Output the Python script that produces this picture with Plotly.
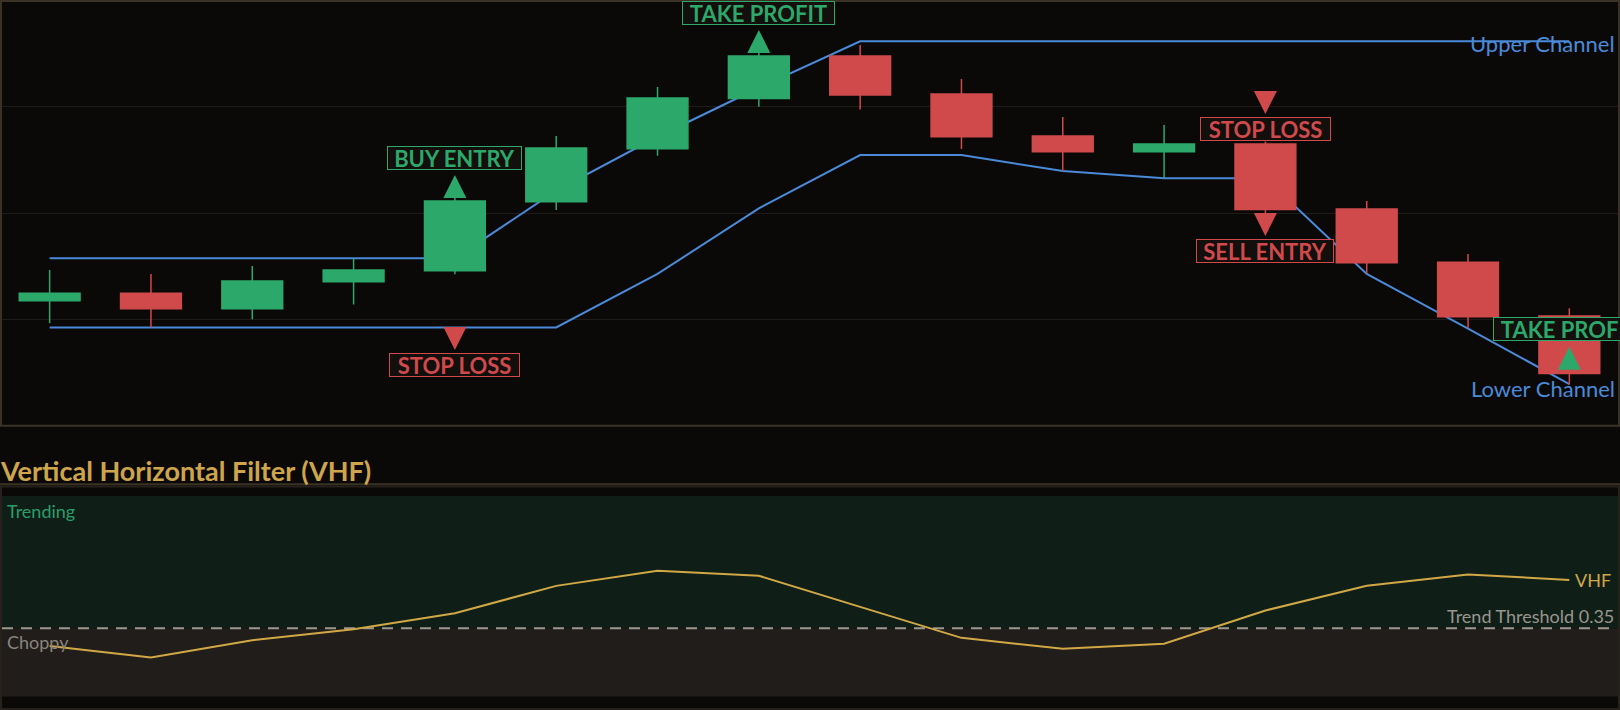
import plotly.graph_objects as go

# ---------------- data ----------------
bars = list(range(16))
opens  = [105.88, 106.23, 105.51, 106.77, 107.29, 110.53, 113.02, 115.37,
          117.37, 115.59, 113.61, 112.88, 113.24, 110.19, 107.69, 105.16]
highs  = [107.32, 107.14, 107.51, 107.87, 110.73, 113.62, 115.92, 117.53,
          117.89, 116.29, 114.51, 114.13, 113.36, 110.56, 108.08, 105.53]
lows   = [104.82, 104.63, 105.01, 105.70, 107.12, 110.14, 112.69, 114.99,
          114.86, 113.00, 111.97, 111.63, 110.00, 107.14, 104.60, 101.95]
closes = [106.23, 105.51, 106.81, 107.32, 110.56, 113.05, 115.40, 117.37,
          115.54, 113.58, 112.88, 113.24, 110.16, 107.67, 105.13, 102.46]

upper_channel = [107.87, 107.87, 107.87, 107.87, 107.87, 111.05, 113.58, 115.88,
                 118.06, 118.06, 118.06, 118.06, 118.06, 118.06, 118.06, 118.06]
lower_channel = [104.63, 104.63, 104.63, 104.63, 104.63, 104.63, 107.14, 110.22,
                 112.72, 112.72, 111.97, 111.63, 111.63, 107.14, 104.57, 101.97]

vhf = [0.311, 0.286, 0.324, 0.348, 0.383, 0.443, 0.476, 0.465,
       0.397, 0.329, 0.305, 0.316, 0.389, 0.443, 0.468, 0.456]
trend_threshold = 0.35

signal_bar   = [4, 4, 7, 12, 12, 15]
signal_price = [111.78, 103.57, 118.59, 114.65, 108.92, 103.72]
signal_dir   = ["up", "down", "up", "down", "down", "up"]
signal_text  = ["BUY ENTRY", "STOP LOSS", "TAKE PROFIT", "STOP LOSS", "SELL ENTRY", "TAKE PROFIT"]

# ---------------- style ----------------
BG = "#0a0908"
GREEN = "#2ca86b"
RED = "#d04a4c"
BLUE = "#4a8ad8"
GOLD = "#d2a746"
FRAME = "#3a3224"
GRID = "#1e1b18"
FONT = "Lato, 'Noto Sans', sans-serif"
W, H = 1620, 710
X_RANGE = [-0.49, 15.5]
PRICE_RANGE = [100, 120]
VHF_RANGE = [0.2, 0.64]
LABEL_BOX_W = {"BUY ENTRY": 131, "STOP LOSS": 127, "TAKE PROFIT": 149, "SELL ENTRY": 134}


def py(px):  # pixel y -> paper y
    return 1 - px / H


def pxx(px):  # pixel x -> paper x
    return px / W


fig = go.Figure()

# channels (base price subplot, drawn behind the candles)
fig.add_trace(go.Scatter(x=bars, y=upper_channel, mode="lines",
                         line=dict(color=BLUE, width=2), xaxis="x", yaxis="y"))
fig.add_trace(go.Scatter(x=bars, y=lower_channel, mode="lines",
                         line=dict(color=BLUE, width=2), xaxis="x", yaxis="y"))

# candles (overlay subplot on top of the channel lines)
fig.add_trace(go.Candlestick(
    x=bars, open=opens, high=highs, low=lows, close=closes,
    increasing=dict(fillcolor=GREEN, line=dict(color=GREEN, width=1.5)),
    decreasing=dict(fillcolor=RED, line=dict(color=RED, width=1.5)),
    whiskerwidth=0, xaxis="x3", yaxis="y3"))

# signal arrows
for d, sym in (("up", "arrow-up"), ("down", "arrow-down")):
    xs = [b for b, dd in zip(signal_bar, signal_dir) if dd == d]
    ys = [p for p, dd in zip(signal_price, signal_dir) if dd == d]
    fig.add_trace(go.Scatter(
        x=xs, y=ys, mode="markers", xaxis="x3", yaxis="y3",
        marker=dict(symbol=sym, size=23, color=GREEN if d == "up" else RED,
                    line=dict(width=0))))

# VHF line
fig.add_trace(go.Scatter(x=bars, y=vhf, mode="lines", line=dict(color=GOLD, width=2),
                         xaxis="x2", yaxis="y2"))

# signal labels
for b, p, d, t in zip(signal_bar, signal_price, signal_dir, signal_text):
    c = GREEN if d == "up" else RED
    fig.add_annotation(
        x=b, y=p, xref="x", yref="y", showarrow=False,
        yshift=17.5 if d == "up" else -15.4,
        text=f"<b>{t}</b>", font=dict(family=FONT, size=22, color=c),
        bgcolor="#120f0c", bordercolor=c, borderwidth=1, borderpad=1,
        width=LABEL_BOX_W[t], height=20, align="center")

# channel labels
fig.add_annotation(x=pxx(1617), y=upper_channel[-1], xref="paper", yref="y",
                   xanchor="right", yanchor="middle", yshift=-2, showarrow=False,
                   text="Upper Channel", font=dict(family=FONT, size=22, color=BLUE))
fig.add_annotation(x=pxx(1617), y=lower_channel[-1], xref="paper", yref="y",
                   xanchor="right", yanchor="middle", yshift=-4, showarrow=False,
                   text="Lower Channel", font=dict(family=FONT, size=22, color=BLUE))

# VHF panel labels
fig.add_annotation(x=bars[-1], y=vhf[-1], xref="x2", yref="y2", xanchor="left",
                   yanchor="middle", xshift=4, showarrow=False, text="VHF",
                   font=dict(family=FONT, size=18, color=GOLD))
fig.add_annotation(x=pxx(1616), y=trend_threshold, xref="paper", yref="y2",
                   xanchor="right", yanchor="bottom", yshift=-1, showarrow=False,
                   text=f"Trend Threshold {trend_threshold}",
                   font=dict(family=FONT, size=18, color="#9a958e"))
fig.add_annotation(x=pxx(5), y=1, xref="paper", yref="y2 domain", xanchor="left",
                   yanchor="top", yshift=-2, showarrow=False, text="Trending",
                   font=dict(family=FONT, size=18, color="#2a9e66"))
fig.add_annotation(x=pxx(5), y=trend_threshold, xref="paper", yref="y2",
                   xanchor="left", yanchor="top", yshift=-1, showarrow=False,
                   text="Choppy", font=dict(family=FONT, size=18, color="#8a847d"))

# panel title
fig.add_annotation(x=0, y=py(470), xref="paper", yref="paper", xanchor="left",
                   yanchor="middle", xshift=-2, showarrow=False,
                   text="<b>Vertical Horizontal Filter (VHF)</b>",
                   font=dict(family=FONT, size=27, color="#cfa54c"))

shapes = [
    # VHF zones
    dict(type="rect", xref="paper", yref="y2", x0=0, x1=1, y0=trend_threshold, y1=VHF_RANGE[1],
         fillcolor="#0f1f18", line=dict(width=0), layer="below"),
    dict(type="rect", xref="paper", yref="y2", x0=0, x1=1, y0=VHF_RANGE[0], y1=trend_threshold,
         fillcolor="#201d1a", line=dict(width=0), layer="below"),
    dict(type="line", xref="paper", yref="y2", x0=pxx(2), x1=pxx(1614), y0=trend_threshold,
         y1=trend_threshold, line=dict(color="#9d978e", width=2, dash="11px,8px"), layer="below"),
    # frames
    dict(type="rect", xref="paper", yref="paper", x0=pxx(1), x1=pxx(1619), y0=py(425.7), y1=py(1),
         line=dict(color=FRAME, width=2), layer="above"),
    dict(type="line", xref="paper", yref="paper", x0=0, x1=1, y0=py(484.3), y1=py(484.3),
         line=dict(color=FRAME, width=2), layer="above"),
    dict(type="rect", xref="paper", yref="paper", x0=pxx(1), x1=pxx(1619), y0=py(709), y1=py(486.5),
         line=dict(color="#26221b", width=2), layer="above"),
]

fig.update_layout(
    width=W, height=H, margin=dict(l=0, r=0, t=0, b=0),
    paper_bgcolor=BG, plot_bgcolor=BG, showlegend=False, hovermode=False,
    boxgap=0.4, boxgroupgap=0,
    font=dict(family=FONT),
    shapes=shapes,
    xaxis=dict(domain=[0, 1], range=X_RANGE, visible=False,
               rangeslider=dict(visible=False), anchor="y"),
    yaxis=dict(domain=[0.4, 1.0], range=PRICE_RANGE, dtick=5, tick0=0,
               showticklabels=False, ticks="", showgrid=True, gridcolor=GRID,
               gridwidth=1, zeroline=False, showline=False, anchor="x"),
    xaxis3=dict(overlaying="x", range=X_RANGE, visible=False,
                rangeslider=dict(visible=False), anchor="y3"),
    yaxis3=dict(overlaying="y", range=PRICE_RANGE, visible=False, showgrid=False,
                zeroline=False, anchor="x3"),
    xaxis2=dict(domain=[0, 1], range=X_RANGE, visible=False, anchor="y2"),
    yaxis2=dict(domain=[py(696.7), py(496)], range=VHF_RANGE, visible=False,
                showgrid=False, zeroline=False, anchor="x2"),
)

fig.write_html(
    "out.html",
    config={"displayModeBar": False},
    post_script="document.body.style.margin='0';document.body.style.background='#0a0908';",
)
